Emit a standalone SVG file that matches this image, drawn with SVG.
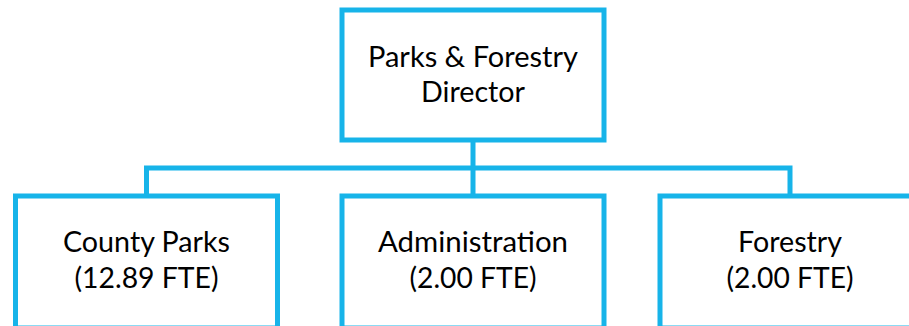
<svg xmlns="http://www.w3.org/2000/svg" width="909" height="326" viewBox="0 0 909 326">
<style>
.box{fill:#ffffff;stroke:#17b4e9;stroke-width:5}
.ln{fill:none;stroke:#17b4e9;stroke-width:5}
.t{font-family:Lato,"Open Sans","Liberation Sans",sans-serif;font-size:28px;fill:#000000;text-anchor:middle}
</style>
<rect width="909" height="326" fill="#ffffff"/>
<g id="connectors">
<path class="ln" d="M473,142 V196 M146.5,196 V168 H790 V196"/>
</g>
<g id="director">
<rect class="box" x="342" y="10" width="262" height="130"/>
<text class="t" x="473" y="66.7" textLength="210" lengthAdjust="spacingAndGlyphs">Parks &amp; Forestry</text>
<text class="t" x="473" y="101.7" textLength="104" lengthAdjust="spacingAndGlyphs">Director</text>
</g>
<g id="county-parks">
<rect class="box" x="15.5" y="196" width="262" height="132"/>
<text class="t" x="146.5" y="252.3" textLength="167" lengthAdjust="spacingAndGlyphs">County Parks</text>
<text class="t" x="146.5" y="287.7" textLength="144" lengthAdjust="spacingAndGlyphs">(12.89 FTE)</text>
</g>
<g id="administration">
<rect class="box" x="342" y="196" width="262" height="132"/>
<text class="t" x="473" y="252.3" textLength="190" lengthAdjust="spacingAndGlyphs">Administration</text>
<text class="t" x="473" y="287.7" textLength="127" lengthAdjust="spacingAndGlyphs">(2.00 FTE)</text>
</g>
<g id="forestry">
<rect class="box" x="660" y="196" width="262" height="132"/>
<text class="t" x="790" y="252.3" textLength="104" lengthAdjust="spacingAndGlyphs">Forestry</text>
<text class="t" x="790" y="287.7" textLength="127" lengthAdjust="spacingAndGlyphs">(2.00 FTE)</text>
</g>
</svg>
